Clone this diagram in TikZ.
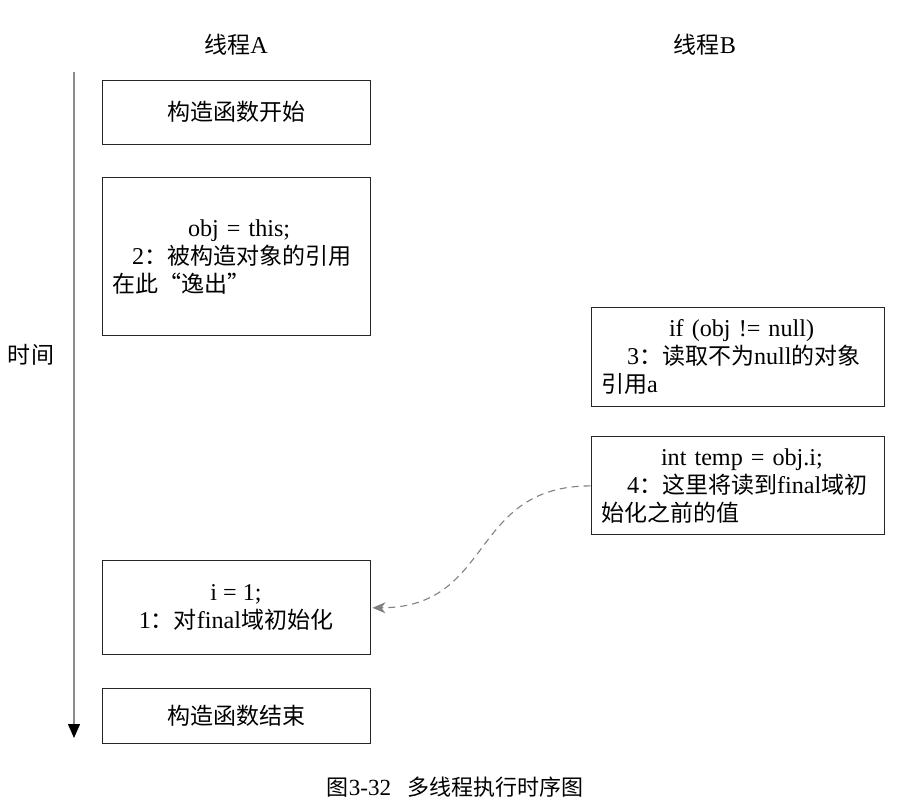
\documentclass[tikz,border=0pt]{standalone}
\usepackage{fontspec}
\setmainfont{Liberation Serif}[Scale=1.05]
\newfontfamily\cjk{Noto Sans CJK SC}
\usepackage{tikz}
\usetikzlibrary{arrows.meta, positioning}

\newcommand{\zh}[1]{{\cjk #1}}

\begin{document}
\begin{tikzpicture}[x=1pt, y=-1pt,
        font=\fontsize{23}{28}\selectfont,
        box/.style={rectangle, draw=black!85, line width=0.9pt, inner xsep=10pt, text centered},
        colA/.style={box, minimum width=268pt},
        colB/.style={box, text width=273pt, align=left},
        timeline/.style={draw=black!45, line width=1.2pt, -{Triangle[length=14pt, width=12pt, color=black]}},
        readarrow/.style={draw=black!50, line width=1.1pt, dash pattern=on 7pt off 5pt, -{Stealth[length=13pt, width=11pt, inset=4pt]}}
    ]
        \useasboundingbox (0,0) rectangle (904,810);

        % Thread headers
        \node (threadA) at (236,45) {\zh{线程}A};
        \node (threadB) at (705,45) {\zh{线程}B};

        % Thread A
        \node[colA, minimum height=64pt] (start) at (236,112) {\zh{构造函数开始}};
        \node[colA, minimum height=158pt, text width=248pt, align=left, below=33pt of start] (escape)
            {\hspace*{76pt}obj = this;\\\hspace*{20pt}2\zh{：被构造对象的引用}\\\zh{在此“逸出”}};
        \node[colA, minimum height=94pt, align=center, below=224pt of escape] (init)
            {i = 1;\\1\zh{：对}final\zh{域初始化}};
        \node[colA, minimum height=55pt, below=33pt of init] (finish) {\zh{构造函数结束}};

        % Thread B
        \node[colB, minimum height=99pt] (check) at (737.5,356.5)
            {\hspace*{68pt}if (obj != null)\\\hspace*{26pt}3\zh{：读取不为}null\zh{的对象}\\\zh{引用}a};
        \node[colB, minimum height=98pt, below=30pt of check] (read)
            {\hspace*{60pt}int temp = obj.i;\\\hspace*{26pt}4\zh{：这里将读到}final\zh{域初}\\\zh{始化之前的值}};

        % Time axis
        \coordinate (tstart) at (74,72);
        \coordinate (tend) at (74,738);
        \node (time) at (31,355) {\zh{时间}};

        % Connectors
        \draw[timeline] (tstart) -- (tend);
        \draw[readarrow] (read.west) to[out=180, in=0, looseness=1.25] ([xshift=2pt]init.east);

        % Caption
        \node[font=\fontsize{22}{26}\selectfont] (caption) at (455,787) {\zh{图}3-32\hspace{16pt}\zh{多线程执行时序图}};
    \end{tikzpicture}
\end{document}
